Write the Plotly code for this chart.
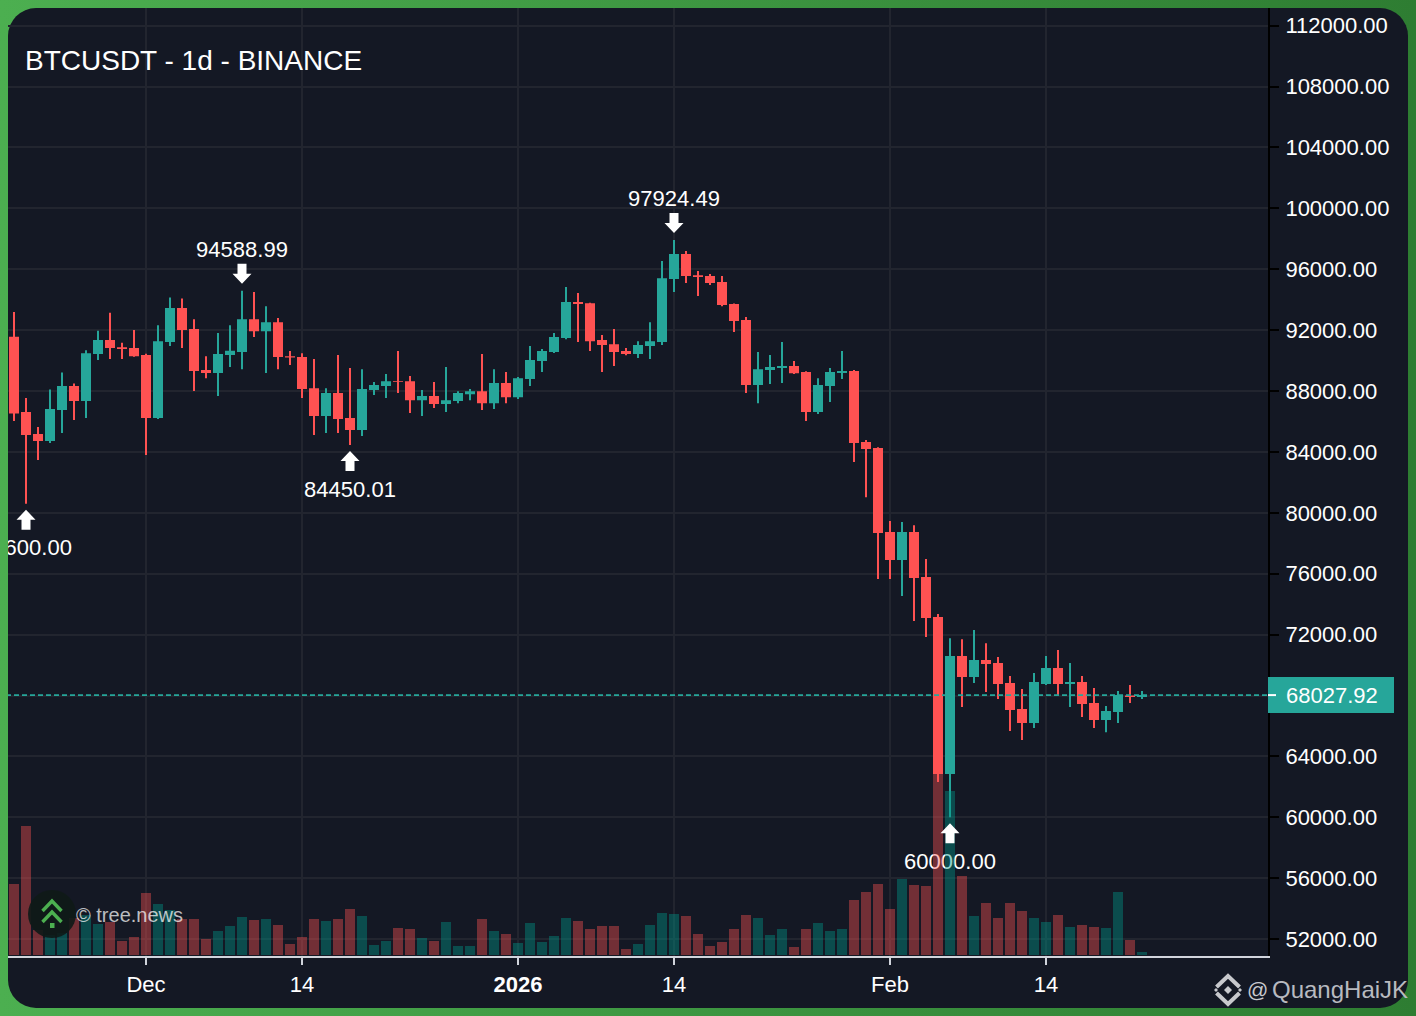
import urllib.parse

import pandas as pd
import plotly.graph_objects as go

# daily candles
dates = pd.date_range("2025-11-20", "2026-02-22", freq="D")

opens = [91560, 86614, 85169, 84710, 86746, 88322, 87337, 90424, 91343, 90883, 90818, 90358, 86220, 91212, 93445, 92066,
         89373, 89176, 90358, 90555, 92722, 91934, 92525, 90292, 90227, 88190, 86352, 87862, 86220, 85432, 88059, 88322,
         88650, 88650, 87402, 87665, 87140, 87337, 87796, 87993, 87205, 88519, 87599, 88782, 89964, 90555, 91475, 93839,
         93773, 91343, 91080, 90621, 90424, 90949, 91212, 95350, 96992, 95612, 95547, 95153, 93708, 92657, 88388, 89373,
         89504, 89636, 89242, 86614, 88322, 89176, 89307, 84644, 84250, 78733, 76894, 78733, 75777, 73150, 62838, 70588,
         69209, 70326, 70129, 68815, 67108, 66188, 68749, 69800, 68749, 68881, 67502, 66385, 66910, 68000, 67900]
highs = [93182, 87534, 85629, 88105, 89222, 88500, 90686, 91954, 93136, 91166, 92000, 90450, 92328, 94148, 94082, 92722,
         90292, 91803, 92328, 94588.99, 94496, 93576, 92788, 90621, 90489, 90095, 88190, 90358, 89504, 89438, 88585, 89110,
         90621, 88979, 88059, 88585, 89570, 87993, 88125, 90424, 89438, 89242, 88913, 90949, 90752, 91803, 94824, 94430,
         93800, 91672, 92066, 90818, 91277, 92525, 96532, 97924.49, 97189, 95875, 95678, 95547, 93750, 92854, 90555, 90358,
         91212, 89964, 89300, 88847, 89504, 90621, 89373, 84775, 84300, 79455, 79390, 79192, 76959, 73347, 71770, 71704,
         72297, 71441, 70523, 69275, 68421, 69472, 70588, 70982, 70129, 69275, 68487, 67305, 68290, 68684, 68290]
lows = [86023, 80600, 83462, 84578, 85235, 86089, 86220, 90030, 90095, 90095, 90250, 83790, 86155, 90949, 90818, 88000,
        88847, 87665, 89570, 89438, 91540, 89176, 89438, 89701, 87534, 85104, 85235, 85235, 84450.01, 85038, 87731, 87534,
        87862, 86549, 86352, 86877, 86614, 87205, 87402, 86746, 86811, 87205, 87468, 88322, 89242, 90500, 91400, 91212,
        90621, 89242, 89636, 90350, 90161, 90095, 91015, 94496, 95087, 94233, 94956, 93576, 91869, 87862, 87205, 88453,
        88519, 89110, 86023, 86483, 87271, 88782, 83330, 81031, 75646, 75646, 74529, 72887, 71836, 62313, 60000, 67239,
        68815, 68224, 67765, 65662, 65071, 65859, 68684, 68027, 67239, 66582, 65859, 65596, 66188, 67502, 67765]
closes = [86529, 85104, 84710, 86811, 88322, 87337, 90489, 91343, 90818, 90752, 90292, 86220, 91277, 93445, 92000, 89307,
          89176, 90424, 90640, 92722, 91934, 92525, 90227, 90200, 88125, 86352, 87862, 86155, 85432, 88125, 88388, 88650,
          88585, 87402, 87665, 87140, 87402, 87862, 87993, 87205, 88519, 87599, 88847, 90030, 90621, 91540, 93839, 93708,
          91277, 91015, 90555, 90424, 91015, 91277, 95415, 96992, 95547, 95481, 95087, 93642, 92591, 88388, 89438, 89570,
          89636, 89160, 86614, 88388, 89242, 89307, 84578, 84184, 78667, 76894, 78733, 75711, 73084, 62838, 70588, 69209,
          70326, 70063, 68749, 67042, 66188, 68881, 69800, 68749, 68881, 67436, 66385, 66976, 68027, 67900, 68027.92]
volumes = [35500, 64500, 12500, 10000, 11000, 18500, 20000, 15500, 16500, 7000, 9000, 31000, 25500, 22500, 18000, 18000,
           8000, 12000, 14500, 19000, 17500, 18000, 15000, 5500, 9000, 18000, 17000, 18000, 23000, 19500, 5000, 7000,
           13500, 13000, 8500, 7000, 16500, 4500, 4500, 18000, 12000, 10500, 6000, 16000, 6500, 9500, 18500, 17000,
           13000, 14500, 14500, 3000, 5500, 15000, 21000, 20500, 19500, 10500, 4500, 6500, 13000, 20000, 18500, 10000,
           13000, 4000, 13000, 16000, 12000, 13000, 27500, 31500, 35500, 23000, 38000, 35000, 34500, 90500, 82000, 39500,
           19500, 26000, 18500, 26000, 22000, 18500, 16500, 20000, 14000, 15000, 14000, 13500, 31500, 7500, 1500]
assert len(dates) == len(opens) == len(highs) == len(lows) == len(closes) == len(volumes)

last_price = 68027.92
price_ticks = list(range(52000, 112001, 4000))
# 68000 sits behind the price tag, so it keeps its grid line and loses its label
price_labels = ["" if p == 68000 else f"{p:.2f}" for p in price_ticks]
time_ticks = ["2025-12-01", "2025-12-14", "2026-01-01", "2026-01-14", "2026-02-01", "2026-02-14"]
time_labels = ["Dec", "14", "<b>2026</b>", "14", "Feb", "14"]

# the highs and lows that carry an arrow
low_marks_x = ["2025-11-21", "2025-12-18", "2026-02-06"]
low_marks_y = [80600.00, 84450.01, 60000.00]
high_marks_x = ["2025-12-09", "2026-01-14"]
high_marks_y = [94588.99, 97924.49]

UP = "#26a69a"
DOWN = "#ff5252"
PANEL = "#141824"
GRID = "#22252f"

W, H = 1416, 1016
LEFT, RIGHT, TOP, BOTTOM = 8, 1268, 8, 956
PRICE_PER_PX = 65.68


def paper_x(px):
    return (px - LEFT) / (RIGHT - LEFT)


def paper_y(py):
    return 1 - (py - TOP) / (BOTTOM - TOP)


def svg_uri(body):
    svg = f'<svg xmlns="http://www.w3.org/2000/svg" width="{W}" height="{H}" viewBox="0 0 {W} {H}">{body}</svg>'
    return "data:image/svg+xml," + urllib.parse.quote(svg)


frame_svg = svg_uri(
    '<defs><linearGradient id="g" x1="0" y1="0" x2="1" y2="0">'
    '<stop offset="0" stop-color="#4caf50"/><stop offset="1" stop-color="#2e7d32"/></linearGradient></defs>'
    f'<rect width="{W}" height="{H}" fill="url(#g)"/>'
    f'<rect x="8" y="8" width="1400" height="1000" rx="28" fill="{PANEL}"/>'
)

# tree.news logo and the small diamond icon in the corner
logo_svg = svg_uri(
    '<circle cx="52" cy="914" r="24" fill="#0f1a18" fill-opacity="0.92"/>'
    '<path d="M42.5 911 L52 901 L61.5 911 M42.5 922 L52 912 L61.5 922" fill="none" stroke="#4caf50" stroke-width="3.4"/>'
    '<rect x="50" y="923" width="4.5" height="5" fill="#4caf50"/>'
    '<path d="M1216.5 987 L1228 976 L1239.5 987 M1216.5 993 L1228 1004 L1239.5 993" fill="none" stroke="#c8c9cd" stroke-width="4"/>'
    '<path d="M1228 986 L1232 990 L1228 994 L1224 990 Z M1216 988 L1218 990 L1216 992 L1214 990 Z M1240 988 L1242 990 L1240 992 L1238 990 Z" fill="#c8c9cd"/>'
)

fig = go.Figure()

# volume first, so it sits under the candles
vol_colors = ["rgba(0,150,136,0.42)" if c >= o else "rgba(255,82,82,0.40)" for o, c in zip(opens, closes)]
fig.add_trace(go.Bar(x=dates, y=volumes, yaxis="y2", marker=dict(color=vol_colors, line_width=0),
                     width=72000000, hoverinfo="skip", showlegend=False))

# wicks
for want_up, color in [(True, UP), (False, DOWN)]:
    wick_x, wick_y = [], []
    for d, o, h, l, c in zip(dates, opens, highs, lows, closes):
        if (c >= o) == want_up:
            wick_x += [d, d, None]
            wick_y += [l, h, None]
    fig.add_trace(go.Scatter(x=wick_x, y=wick_y, mode="lines", line=dict(color=color, width=2),
                             hoverinfo="skip", showlegend=False))

# bodies
fig.add_trace(go.Candlestick(x=dates, open=opens, high=highs, low=lows, close=closes, whiskerwidth=0,
                             increasing=dict(fillcolor=UP, line=dict(color=UP, width=0)),
                             decreasing=dict(fillcolor=DOWN, line=dict(color=DOWN, width=0)),
                             hoverinfo="skip", showlegend=False))

# dashed last price line
fig.add_trace(go.Scatter(x=[dates[0] - pd.Timedelta(days=2), dates[-1] + pd.Timedelta(days=30)],
                         y=[last_price, last_price], mode="lines",
                         line=dict(color=UP, width=1.6, dash="5px,3px"), hoverinfo="skip", showlegend=False))

# arrow labels as clipped text, so the first one is cut by the panel edge
fig.add_trace(go.Scatter(x=low_marks_x, y=[v - 46 * PRICE_PER_PX for v in low_marks_y], mode="text",
                         text=[f"{v:.2f}" for v in low_marks_y], textfont=dict(size=22, color="white"),
                         hoverinfo="skip", showlegend=False))
fig.add_trace(go.Scatter(x=high_marks_x, y=[v + 39 * PRICE_PER_PX for v in high_marks_y], mode="text",
                         text=[f"{v:.2f}" for v in high_marks_y], textfont=dict(size=22, color="white"),
                         hoverinfo="skip", showlegend=False))

shapes = []
for x, y in zip(low_marks_x, low_marks_y):
    shapes.append(dict(type="path", xref="x", yref="y", xsizemode="pixel", ysizemode="pixel", xanchor=x, yanchor=y,
                       path="M0,-6 L9.5,-16 L4.5,-16 L4.5,-26 L-4.5,-26 L-4.5,-16 L-9.5,-16 Z",
                       fillcolor="white", line_width=0, layer="above"))
for x, y in zip(high_marks_x, high_marks_y):
    shapes.append(dict(type="path", xref="x", yref="y", xsizemode="pixel", ysizemode="pixel", xanchor=x, yanchor=y,
                       path="M0,7 L9.5,17 L4.5,17 L4.5,27 L-4.5,27 L-4.5,17 L-9.5,17 Z",
                       fillcolor="white", line_width=0, layer="above"))

# price tag on the axis
shapes.append(dict(type="rect", xref="paper", yref="y", ysizemode="pixel", yanchor=last_price,
                   x0=paper_x(1268), x1=paper_x(1394), y0=-18, y1=18, fillcolor=UP, line_width=0, layer="above"))
shapes.append(dict(type="rect", xref="paper", yref="y", ysizemode="pixel", yanchor=last_price,
                   x0=paper_x(1268), x1=paper_x(1276), y0=-1, y1=1, fillcolor="white", line_width=0, layer="above"))

annotations = [
    dict(text="BTCUSDT - 1d - BINANCE", xref="paper", yref="paper", x=paper_x(23), y=paper_y(60), xanchor="left",
         yanchor="middle", showarrow=False, font=dict(size=28, color="white")),
    dict(text=f"{last_price:.2f}", xref="paper", yref="y", x=paper_x(1284), y=last_price, xanchor="left",
         yanchor="middle", showarrow=False, font=dict(size=22, color="white")),
    dict(text="© tree.news", xref="paper", yref="paper", x=paper_x(74), y=paper_y(915), xanchor="left",
         yanchor="middle", showarrow=False, font=dict(size=20, color="rgba(255,255,255,0.72)")),
    dict(text="@", xref="paper", yref="paper", x=paper_x(1245), y=paper_y(990), xanchor="left",
         yanchor="middle", showarrow=False, font=dict(size=21, color="#c8c9cd")),
    dict(text="QuangHaiJK", xref="paper", yref="paper", x=paper_x(1410), y=paper_y(990), xanchor="right",
         yanchor="middle", showarrow=False, font=dict(size=24, color="#b8bac0")),
]

fig.update_layout(
    width=W, height=H,
    margin=dict(l=LEFT, r=W - RIGHT, t=TOP, b=H - BOTTOM, pad=0),
    paper_bgcolor=PANEL,
    plot_bgcolor="rgba(0,0,0,0)",
    font=dict(family="Liberation Sans, Arial, sans-serif", size=22, color="white"),
    showlegend=False,
    hovermode=False,
    boxgap=1 / 6,
    boxgroupgap=0,
    shapes=shapes,
    annotations=annotations,
    images=[
        dict(source=frame_svg, xref="paper", yref="paper", x=paper_x(0), y=paper_y(0), sizex=W / (RIGHT - LEFT),
             sizey=H / (BOTTOM - TOP), xanchor="left", yanchor="top", sizing="stretch", layer="below"),
        dict(source=logo_svg, xref="paper", yref="paper", x=paper_x(0), y=paper_y(0), sizex=W / (RIGHT - LEFT),
             sizey=H / (BOTTOM - TOP), xanchor="left", yanchor="top", sizing="stretch", layer="above"),
    ],
    xaxis=dict(
        type="date",
        range=["2025-11-19 12:00", "2026-03-04 12:00"],
        rangeslider=dict(visible=False),
        tickmode="array", tickvals=time_ticks, ticktext=time_labels,
        tickfont=dict(size=22, color="white"),
        ticks="outside", ticklen=7, tickwidth=2, tickcolor="#d1d4dc", ticklabelstandoff=1,
        showline=True, linecolor="#d1d4dc", linewidth=2,
        showgrid=True, gridcolor=GRID, gridwidth=2,
        zeroline=False,
    ),
    yaxis=dict(
        side="right",
        range=[50892, 113157],
        tickmode="array", tickvals=price_ticks, ticktext=price_labels,
        tickfont=dict(size=22, color="white"),
        ticks="outside", ticklen=9, tickwidth=2, tickcolor="#000000", ticklabelstandoff=2,
        showline=True, linecolor="#000000", linewidth=2,
        showgrid=True, gridcolor=GRID, gridwidth=2,
        zeroline=False,
    ),
    yaxis2=dict(overlaying="y", side="right", range=[-500, 473500], visible=False, showgrid=False),
)

fig.write_html("out.html", config=dict(displayModeBar=False), post_script="document.body.style.margin='0';")
